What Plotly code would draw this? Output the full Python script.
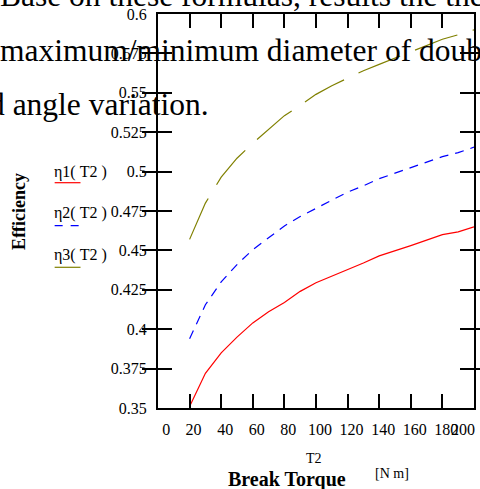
import plotly.graph_objects as go

# ---------------- data ----------------
T2 = [20, 30, 40, 50, 60, 70, 80, 90, 100, 110, 120, 130, 140, 150, 160, 170, 180, 190, 200]
eta1 = [0.351, 0.372, 0.385, 0.395, 0.404, 0.411, 0.417, 0.424, 0.4295, 0.4335,
        0.438, 0.442, 0.4465, 0.450, 0.453, 0.4565, 0.460, 0.4618, 0.465]
eta2 = [0.394, 0.4155, 0.430, 0.441, 0.4505, 0.458, 0.4655, 0.4715, 0.4768, 0.482,
        0.487, 0.491, 0.4955, 0.499, 0.5025, 0.506, 0.5095, 0.512, 0.5155]
eta3 = [0.457, 0.480, 0.4965, 0.5085, 0.518, 0.527, 0.5355, 0.542, 0.549, 0.5545,
        0.5595, 0.564, 0.568, 0.572, 0.5765, 0.580, 0.584, 0.5868, 0.590]
series_names = ["η1( T2 )", "η2( T2 )", "η3( T2 )"]

x_ticks = [0, 20, 40, 60, 80, 100, 120, 140, 160, 180, 200]
x_tick_labels = ["0", "20", "40", "60", "80", "100", "120", "140", "160", "180", "200"]
y_ticks = [0.35, 0.375, 0.4, 0.425, 0.45, 0.475, 0.5, 0.525, 0.55, 0.575, 0.6]
y_tick_labels = ["0.35", "0.375", "0.4", "0.425", "0.45", "0.475", "0.5", "0.525", "0.55", "0.575", "0.6"]

page_text = ["Base on these formulas, results the theoretical",
             "maximum/minimum diameter of double",
             "d angle variation."]

# ---------------- style ----------------
W, H = 480, 489
L, R, T, B = 158, 4, 14, 81
colors = ["#FF0000", "#0000FF", "#808000"]
dashes = ["solid", "9px,7px", "45px,16px"]
legend_dashes = ["solid", "8px,8px", "solid"]
SERIF = "Liberation Serif, Times New Roman, serif"
# label nudges (data units) to mimic the Mathcad label placement
label_nudge = {0: 5.2, 200: -6.9}
default_nudge = 2.5

plot_w = W - L - R
plot_h = H - T - B


def px(xp):
    return (xp - L) / plot_w


def py(yp):
    return (H - B - yp) / plot_h


fig = go.Figure()
for ys, c, d, n in zip([eta1, eta2, eta3], colors, dashes, series_names):
    fig.add_trace(go.Scatter(x=T2, y=ys, mode="lines", name=n,
                             line=dict(color=c, width=1.2, dash=d),
                             showlegend=False, hoverinfo="skip"))

axis_common = dict(showgrid=False, zeroline=False, showline=True, linecolor="black",
                   linewidth=2, mirror="allticks", ticks="inside", ticklen=14,
                   tickwidth=2, tickcolor="black")

fig.update_layout(
    width=W, height=H,
    margin=dict(l=L, r=R, t=T, b=B, pad=0),
    paper_bgcolor="white", plot_bgcolor="white",
    font=dict(family=SERIF, size=16, color="black"),
    xaxis=dict(range=[0, 200], tickvals=x_ticks, showticklabels=False, **axis_common),
    xaxis2=dict(range=[0, 200], overlaying="x", anchor="y", side="bottom",
                tickvals=[v + label_nudge.get(v, default_nudge) for v in x_ticks],
                ticktext=x_tick_labels, tickangle=0, showgrid=False, zeroline=False,
                showline=False, ticks="", ticklabelstandoff=10,
                tickfont=dict(family=SERIF, size=16, color="black")),
    yaxis=dict(range=[0.35, 0.6], tickvals=y_ticks, ticktext=y_tick_labels,
               tickfont=dict(family=SERIF, size=16, color="black"),
               ticklabelstandoff=6, **axis_common),
)
# dummy invisible trace so xaxis2 is drawn
fig.add_trace(go.Scatter(x=[None], y=[None], xaxis="x2", yaxis="y", showlegend=False))

ann = []
# legend (Mathcad style: name with sample line under it)
leg_text_y = [171.7, 213.3, 255.0]
leg_line_y = [182.7, 225.7, 267.3]
for n, c, d, ty, ly in zip(series_names, colors, legend_dashes, leg_text_y, leg_line_y):
    ann.append(dict(x=px(54), y=py(ty), xref="paper", yref="paper", text=n,
                    showarrow=False, xanchor="left", yanchor="middle", xshift=-3,
                    font=dict(family=SERIF, size=16, color="black")))
    fig.add_shape(type="line", xref="paper", yref="paper",
                  x0=px(54), x1=px(80), y0=py(ly), y1=py(ly),
                  line=dict(color=c, width=1.2, dash=d))

ann.append(dict(x=px(18), y=py(211), xref="paper", yref="paper", text="<b>Efficiency</b>",
                textangle=-90, showarrow=False, xanchor="center", yanchor="middle",
                font=dict(family=SERIF, size=18, color="black")))
ann.append(dict(x=px(314.5), y=py(458), xref="paper", yref="paper", text="T2",
                showarrow=False, xanchor="center", yanchor="middle",
                font=dict(family=SERIF, size=14, color="black")))
ann.append(dict(x=px(288), y=py(479), xref="paper", yref="paper", text="<b>Break Torque</b>",
                showarrow=False, xanchor="center", yanchor="middle",
                font=dict(family=SERIF, size=20, color="black")))
ann.append(dict(x=px(393), y=py(473), xref="paper", yref="paper", text="[N m]",
                showarrow=False, xanchor="center", yanchor="middle",
                font=dict(family=SERIF, size=14, color="black")))

# overlapping page text from the document behind
for line, sx, cy in zip(page_text, [-2, -2, -13], [-4, 50, 104]):
    ann.append(dict(x=0, y=py(cy), xref="paper", yref="paper", text=line,
                    showarrow=False, xanchor="left", yanchor="middle",
                    xshift=sx - L,
                    font=dict(family=SERIF, size=31.5, color="black")))

fig.update_layout(annotations=ann)
fig.write_html("out.html")
